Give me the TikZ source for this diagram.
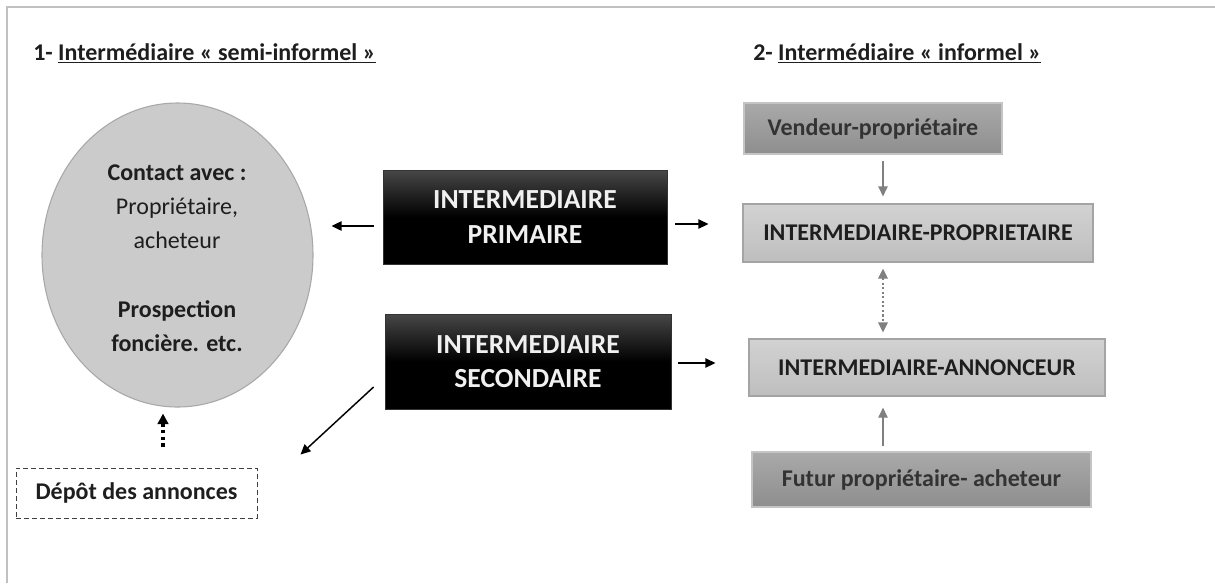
\documentclass[tikz,border=0pt]{standalone}
\usepackage{fontspec}
\setmainfont{Carlito}
\usetikzlibrary{shapes.geometric,arrows.meta,calc}
\definecolor{frameg}{HTML}{C0C0C0}
\definecolor{circfill}{HTML}{CBCBCB}
\definecolor{circline}{HTML}{A8A8A8}
\definecolor{darkTop}{HTML}{A9A9A9}
\definecolor{darkBot}{HTML}{8E8E8E}
\definecolor{darkLine}{HTML}{C4C4C4}
\definecolor{lightTop}{HTML}{D2D2D2}
\definecolor{lightBot}{HTML}{BEBEBE}
\definecolor{lightLine}{HTML}{A4A4A4}
\definecolor{arrgray}{HTML}{808080}
\definecolor{txtdark}{HTML}{1E1E1E}
\definecolor{txtvend}{HTML}{333333}
\newcommand{\fsmall}{\fontsize{18pt}{22pt}\selectfont}
\newcommand{\fbig}{\fontsize{20.7pt}{26pt}\selectfont}
\tikzset{
  blackbox/.style={draw=black!80, line width=0.6pt, top color=black!72, bottom color=black, middle color=black,
     text=white!94!black, font=\fbig\bfseries, align=center, inner sep=0pt},
  darkbox/.style={draw=darkLine, line width=0.9pt, top color=darkTop, bottom color=darkBot,
     text=txtvend, font=\fsmall\bfseries, inner sep=0pt},
  lightbox/.style={draw=lightLine, line width=0.9pt, top color=lightTop, bottom color=lightBot,
     text=txtdark, font=\fsmall\bfseries, inner sep=0pt},
  arr/.style={line width=1.1pt, -{Triangle[length=7.5pt,width=7pt]}},
  garr/.style={arrgray, line width=0.9pt, -{Triangle[length=7.5pt,width=7pt]}},
  txt/.style={font=\fsmall, inner sep=0pt, anchor=base, text=txtdark},
  btxt/.style={font=\fsmall\bfseries, inner sep=0pt, anchor=base, text=txtdark},
}
\begin{document}
\begin{tikzpicture}[x=0.75pt,y=-0.75pt]
\useasboundingbox (0,0) rectangle (1215,583);
\fill[white] (0,0) rectangle (1215,583);
\draw[frameg, line width=1.5pt] (7,583) -- (7,7) -- (1215,7);

% titles
\node[btxt, anchor=base west] (t1) at (33,60) {1- \underline{Intermédiaire « semi-informel »}};
\node[btxt, anchor=base west] (t2) at (753,60) {2- \underline{Intermédiaire « informel »}};

% circle
\node[ellipse, draw=circline, line width=0.8pt, fill=circfill, minimum width=203.25pt, minimum height=228pt, inner sep=0pt] (circ) at (177.5,255) {};
\node[btxt] (c1) at (177,180) {Contact avec :};
\node[txt] (c2) at (177,214) {Propriétaire,};
\node[txt] (c3) at (177,248) {acheteur};
\node[btxt] (c4) at (177,317) {Prospection};
\node[btxt] (c5) at (177,351) {foncière. etc.};

% black boxes
\node[blackbox, minimum width=213pt, minimum height=70.5pt] (prim) at (525,217) {INTERMEDIAIRE\\PRIMAIRE};
\node[blackbox, minimum width=214.5pt, minimum height=71.25pt] (sec) at (528,361.5) {INTERMEDIAIRE\\SECONDAIRE};

% depot
\node[draw=black!75, dash pattern=on 3.5pt off 2.5pt, line width=0.75pt, minimum width=180.75pt, minimum height=37.5pt,
      inner sep=0pt, font=\fsmall\bfseries, text=txtdark] (depot) at (136.5,493) {Dépôt des annonces};

% right column
\node[darkbox, minimum width=193.5pt, minimum height=38.25pt] (vend) at (873,128.5) {Vendeur-propriétaire};
\node[lightbox, minimum width=262.5pt, minimum height=43.5pt] (ip) at (918,233) {INTERMEDIAIRE-PROPRIETAIRE};
\node[lightbox, minimum width=267pt, minimum height=42.75pt] (ia) at (927,367.5) {INTERMEDIAIRE-ANNONCEUR};
\node[darkbox, minimum width=254.25pt, minimum height=41.25pt] (fut) at (921.5,479.5) {Futur propriétaire- acheteur};

% black arrows
\draw[arr] ($(prim.west)+(-9,9)$) -- ($(circ.east |- prim.west)+(18,9)$);
\draw[arr] ($(prim.east)+(8,7)$) -- ($(ip.west |- prim.east)+(-34,7)$);
\draw[arr] ($(sec.east)+(7,1.5)$) -- ($(ia.west |- sec.east)+(-33,1.5)$);
\draw[arr] ($(sec.west)+(-11,25.5)$) -- ($(depot.north east)+(43,-13)$);
\draw[line width=2.6pt, dash pattern=on 2.4pt off 2.6pt, -{Triangle[length=8pt,width=8pt]}]
  ($(depot.north)+(26.5,-21)$) -- ($(circ.south)+(-14.5,6)$);

% gray arrows
\draw[garr] ($(vend.south)+(10,6)$) -- ($(vend.south |- ip.north)+(10,-7)$);
\draw[arrgray, line width=1.5pt, dash pattern=on 1.6pt off 1.8pt, {Triangle[length=7.5pt,width=7pt]}-{Triangle[length=7.5pt,width=7pt]}]
  ($(ip.south)+(-35,6)$) -- ($(ip.south |- ia.north)+(-35,-6)$);
\draw[garr] ($(fut.north)+(-38.5,-5)$) -- ($(fut.north |- ia.south)+(-38.5,11)$);
\end{tikzpicture}
\end{document}
